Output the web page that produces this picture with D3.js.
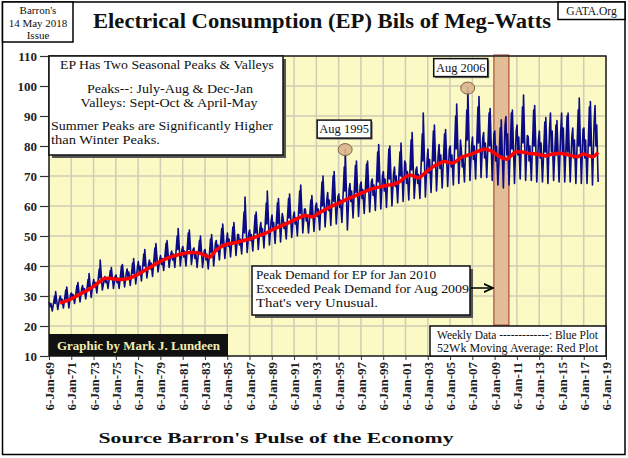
<!DOCTYPE html>
<html>
<head>
<meta charset="utf-8">
<script src="https://cdn.jsdelivr.net/npm/d3@7"></script>
<style>
  html, body { margin: 0; padding: 0; background: #fff; }
  svg { display: block; }
  text { font-family: "Liberation Serif", "DejaVu Serif", serif; }
</style>
</head>
<body>
<svg id="chart" width="628" height="458"></svg>
<script>
// ---------------- DATA ----------------
const years = [1969,1970,1971,1972,1973,1974,1975,1976,1977,1978,1979,1980,1981,1982,1983,1984,1985,1986,1987,1988,1989,1990,1991,1992,1993,1994,1995,1996,1997,1998,1999,2000,2001,2002,2003,2004,2005,2006,2007,2008,2009,2010,2011,2012,2013,2014,2015,2016,2017,2018];
// weekly EP seasonal turning points (bils of meg-watts), one value per year each
const janPeak    = [28,30,31,33.5,35.5,36.5,37,39,41.5,42,43.5,45,46.5,46,45.5,48.5,51,50.5,52,54.5,57,56,58,59,61,64.5,64,67.5,68,69,71.5,73,74,73,79,80.5,80,78.5,83,84.5,85,89.8,87,83,85,91,91,86,86,93.5];
const febDip     = [26.5,28,29.5,31,33,34.5,34.5,36,38,39,40.5,42,43,42.5,42,45,46.5,47,48.5,50,52,52.5,54,55,56.5,58.5,59.5,61.5,62.5,63.5,65,66.5,67.5,67.5,71,72.5,73,73,75.5,76,75,77,77,75,76,78,78,76,76,80];
const marBump    = [27.5,29,30.5,32.5,34.5,36,36,38,40,41,42.5,44,45,44.5,44,47,49,49,50.5,52.5,54.5,54.5,56,57,59,62,62,65,65.5,67,69,70,71.5,70.5,75.5,77,77,76,80,81,80,84,83,80,81,85,86,82,82,87];
const springLow  = [25,26,27.5,29,31,32.5,32.5,33.5,35,36.5,38.5,39.5,40,39.5,39,42,43,44,45,46,47.5,49,50,51,52,53.5,54.5,56,57.5,58.5,59.5,61,62,62.5,64.5,66,67,68,69,69.5,67,67,69,68.5,68,68.5,68,67.5,67.5,68];
const julPeak    = [30,32,33.5,35.5,39,38.5,40,41,44,46,47.5,50,51,48.5,49,52.5,53,58,57,61,61,62.5,65,62,68,70,73,73.5,74,78,79,78,82,84,85,84,90,92,93,91,86,91,93,92,88,87,90,92,93,null];
const julDip     = [27.5,29,31,33,36,35.5,36,37.5,40,41.5,43,45.5,45.5,44,44.5,47.5,48,51,51,54,54,56,57.5,57,60,61.5,65,64.5,65.5,68,69,70,72,75,75,75,79,82,81,80,77,79,81,80,78,77,78,80,80,null];
const summerPeak = [31.5,33,34.5,37.5,42,39.5,40.5,42.5,45.5,47.5,48.5,52.5,52,50,50.5,54,54.5,63,58,65,62.5,64,67,63.5,70,71.5,79,75,75,80.5,80,81,84.5,91,87,85.5,94,99.5,96.5,92.5,88.7,92,97,93.5,89.5,88.5,91,96,94.8,null];
const fallLow    = [25.5,26,28,29.5,32,32.5,33,34,36,38,39.5,40,40.5,39.5,40,42.5,43.5,44.5,45.5,47,48,49.5,51,51.5,53,54,52,56.5,58,59,60,61.5,62.5,63,65,66.5,67.5,68.5,69.5,68.5,66,67.5,68.5,68,67.5,68,68,67.5,67,null];
const decPeak    = [29,30.5,32.5,34,35,36.5,37.5,39.5,40.5,42,44,45.5,45.5,45,47.5,48.5,50.5,51,52.5,55,57.5,56.5,59,60,62,63,65.5,67,68,70,71,75,72,75,77,79,82,80,82.5,84,87,85,83.5,82,86,85,83,85.5,88,null];
// 52 week moving average [year, value]
const movingAvg = [[1970.0,27.6],[1970.5,28.3],[1971.0,29.0],[1971.5,30.0],[1972.0,31.0],[1972.5,32.0],[1973.0,33.2],[1973.5,34.6],[1974.0,35.8],[1974.5,35.9],[1975.0,35.6],[1975.5,35.5],[1976.0,35.7],[1976.5,36.3],[1977.0,37.2],[1977.5,38.3],[1978.0,39.4],[1978.5,40.5],[1979.0,41.5],[1979.5,42.4],[1980.0,43.1],[1980.5,43.6],[1981.0,44.1],[1981.5,44.4],[1982.0,44.5],[1982.5,44.3],[1983.0,43.6],[1983.4,42.9],[1984.0,45.2],[1984.5,46.5],[1985.0,47.3],[1985.5,47.6],[1986.0,48.0],[1986.5,48.5],[1987.0,49.0],[1987.5,49.6],[1988.0,50.3],[1988.5,51.0],[1989.0,52.0],[1989.5,52.8],[1990.0,53.6],[1990.5,54.4],[1991.0,55.3],[1991.5,56.1],[1992.0,56.8],[1992.7,56.4],[1993.2,57.6],[1993.7,58.6],[1994.2,59.6],[1994.6,60.3],[1995.0,60.9],[1995.5,61.8],[1996.0,62.6],[1996.5,63.4],[1997.0,64.2],[1997.5,65.0],[1998.0,65.7],[1998.5,66.2],[1999.0,66.6],[1999.5,67.0],[2000.0,67.3],[2000.5,68.2],[2001.0,69.6],[2001.4,70.3],[2002.2,69.4],[2002.7,70.8],[2003.2,72.3],[2003.6,73.3],[2004.0,74.1],[2004.5,74.8],[2005.2,74.3],[2005.6,75.0],[2006.0,76.2],[2006.5,76.8],[2007.0,77.4],[2007.5,78.2],[2008.1,78.9],[2008.6,78.5],[2009.0,77.6],[2009.6,76.2],[2010.1,75.6],[2010.5,76.8],[2011.0,78.1],[2011.5,78.0],[2012.0,77.6],[2012.5,77.4],[2013.0,77.2],[2013.6,76.7],[2014.1,77.2],[2014.8,77.6],[2015.3,77.3],[2015.9,76.8],[2016.4,76.4],[2017.0,77.3],[2017.8,76.4],[2018.3,77.9]];
const yTicks = [10,20,30,40,50,60,70,80,90,100,110];
const xTickYears = [1969,1971,1973,1975,1977,1979,1981,1983,1985,1987,1989,1991,1993,1995,1997,1999,2001,2003,2005,2007,2009,2011,2013,2015,2017,2019];
const band = [2008.95, 2010.3];
const callouts = [{label:"Aug 1995", year:1995.6, value:78.8, dx:-1}, {label:"Aug 2006", year:2006.6, value:99.3, dx:-7}];

// ---------------- CHART ----------------
const svg = d3.select("#chart");
const m = {left:49, right:606, top:56, bottom:356};

const fracToDate = f => {
  const yr = Math.floor(f);
  const a = new Date(yr,0,1).getTime(), b = new Date(yr+1,0,1).getTime();
  return new Date(a + (f-yr)*(b-a));
};

const x = d3.scaleTime().domain([new Date(1969,0,6), new Date(2019,0,6)]).range([m.left, m.right]);
const y = d3.scaleLinear().domain([10,110]).range([m.bottom, m.top]);

// outer frame
svg.append("rect").attr("x",2.5).attr("y",2).attr("width",622.5).attr("height",452.5)
  .attr("fill","#fff").attr("stroke","#000").attr("stroke-width",1.5);

// plot background
svg.append("rect").attr("x",m.left).attr("y",m.top).attr("width",m.right-m.left).attr("height",m.bottom-m.top)
  .attr("fill","#fbf9c4");

// gridlines
const xTicks = xTickYears.map(yr => new Date(yr,0,6));
svg.append("g").selectAll("line").data(xTicks).join("line")
  .attr("x1",d=>x(d)).attr("x2",d=>x(d)).attr("y1",m.top).attr("y2",m.bottom)
  .attr("stroke","#cfcdb6").attr("stroke-width",1.5);
svg.append("g").selectAll("line").data(yTicks).join("line")
  .attr("x1",m.left).attr("x2",m.right).attr("y1",d=>y(d)).attr("y2",d=>y(d))
  .attr("stroke","#cfcdb6").attr("stroke-width",1.5);

// shaded band
svg.append("rect")
  .attr("x", x(fracToDate(band[0]))).attr("y", m.top-1)
  .attr("width", x(fracToDate(band[1])) - x(fracToDate(band[0])))
  .attr("height", y(20.3) - m.top + 1)
  .attr("fill","#e2bd95").attr("stroke","#a3302a").attr("stroke-width",1);

// weekly series
const weekly = [];
years.forEach((yr,i) => {
  const pts = [[0.03,janPeak[i]],[0.11,febDip[i]],[0.18,marBump[i]],[0.31,springLow[i]],
               [0.52,julPeak[i]],[0.565,julDip[i]],[0.61,summerPeak[i]],[0.8,fallLow[i]],[0.95,decPeak[i]]];
  pts.forEach(([f,v]) => { if (v !== null) weekly.push({d:fracToDate(yr+f), v}); });
});
const line = d3.line().x(d=>x(d.d)).y(d=>y(d.v));
svg.append("path").datum(weekly).attr("d",line)
  .attr("fill","none").attr("stroke","#0b0b85").attr("stroke-width",1.6).attr("stroke-linejoin","round");

// moving average
const ma = movingAvg.map(([f,v]) => ({d:fracToDate(f), v}));
svg.append("path").datum(ma).attr("d", d3.line().x(d=>x(d.d)).y(d=>y(d.v)).curve(d3.curveMonotoneX))
  .attr("fill","none").attr("stroke","#ff0000").attr("stroke-width",3.5).attr("stroke-linejoin","round");

// plot border
svg.append("rect").attr("x",m.left).attr("y",m.top).attr("width",m.right-m.left).attr("height",m.bottom-m.top)
  .attr("fill","none").attr("stroke","#222").attr("stroke-width",1.5);

// y axis
const yAxis = d3.axisLeft(y).tickValues(yTicks).tickSize(9).tickPadding(3);
const ya = svg.append("g").attr("transform",`translate(${m.left},0)`).call(yAxis);
ya.select(".domain").remove();
ya.selectAll(".tick line").attr("stroke","#333").attr("stroke-width",1.2);
ya.selectAll(".tick text").attr("font-family","Liberation Serif, serif").attr("font-weight","bold")
  .attr("font-size",13).attr("fill","#222");

// x axis
const xAxis = d3.axisBottom(x).tickValues(xTicks).tickSize(4).tickFormat(d3.timeFormat("%-d-%b-%y"));
const xa = svg.append("g").attr("transform",`translate(0,${m.bottom})`).call(xAxis);
xa.select(".domain").remove();
xa.selectAll(".tick line").attr("stroke","#333");
xa.selectAll(".tick text")
  .attr("font-family","Liberation Serif, serif").attr("font-weight","bold").attr("font-size",13).attr("fill","#222")
  .attr("text-anchor","end").attr("transform","rotate(-90)")
  .attr("x",-6).attr("y",0).attr("dy","0.35em");

// title
svg.append("text").attr("x",322).attr("y",28).attr("text-anchor","middle")
  .attr("font-weight","bold").attr("font-size",21).attr("fill","#111")
  .attr("textLength",458).attr("lengthAdjust","spacingAndGlyphs")
  .text("Electrical Consumption (EP) Bils of Meg-Watts");

// Barron's box
svg.append("rect").attr("x",2.5).attr("y",2).attr("width",70.5).attr("height",40)
  .attr("fill","#fff").attr("stroke","#000").attr("stroke-width",1.5);
[["Barron's",14],["14 May 2018",26.5],["Issue",38.5]].forEach(([t,yy]) =>
  svg.append("text").attr("x",38).attr("y",yy).attr("text-anchor","middle").attr("font-size",11).attr("fill","#111").text(t));

// GATA box
svg.append("rect").attr("x",558).attr("y",2).attr("width",67).attr("height",17.5)
  .attr("fill","#fff").attr("stroke","#000").attr("stroke-width",1.5);
svg.append("text").attr("x",591.5).attr("y",15).attr("text-anchor","middle").attr("font-size",11.5).attr("fill","#111").text("GATA.Org");

// text box helper
function box(x0,y0,w,h,shadow) {
  if (shadow) svg.append("rect").attr("x",x0+3).attr("y",y0+3).attr("width",w).attr("height",h).attr("fill","#555");
  svg.append("rect").attr("x",x0).attr("y",y0).attr("width",w).attr("height",h)
    .attr("fill","#fff").attr("stroke","#111").attr("stroke-width",1.5);
}

// info box 1
box(49,56,234,99,true);
const t1 = [
  {t:"EP Has Two Seasonal Peaks & Valleys", x:167, y:69, a:"middle", w:214},
  {t:"Peaks--: July-Aug & Dec-Jan", x:170, y:93, a:"middle", w:166},
  {t:"Valleys:  Sept-Oct & April-May", x:169, y:107, a:"middle", w:177},
  {t:"Summer Peaks are Significantly  Higher", x:51, y:130, a:"start", w:222},
  {t:"than Winter Peaks.", x:51, y:144, a:"start", w:109}
];
t1.forEach(d => svg.append("text").attr("x",d.x).attr("y",d.y).attr("text-anchor",d.a)
  .attr("font-size",12.5).attr("fill","#111").attr("textLength",d.w).attr("lengthAdjust","spacingAndGlyphs").text(d.t));

// callouts
callouts.forEach(c => {
  const cx = x(fracToDate(c.year)), cy = y(c.value);
  svg.append("ellipse").attr("cx",cx).attr("cy",cy).attr("rx",7).attr("ry",6)
    .attr("fill","#d9b68e").attr("fill-opacity",0.9).attr("stroke","#7d6040").attr("stroke-width",1);
  const bw = 54, bh = 18, bx = cx - bw/2 + c.dx, by = cy - 29.5;
  svg.append("rect").attr("x",bx+1.5).attr("y",by+1.5).attr("width",bw).attr("height",bh).attr("fill","#777");
  svg.append("rect").attr("x",bx).attr("y",by).attr("width",bw).attr("height",bh)
    .attr("fill","#fff").attr("stroke","#111").attr("stroke-width",1.5);
  svg.append("text").attr("x",bx+bw/2).attr("y",by+13).attr("text-anchor","middle").attr("font-size",12.5)
    .attr("fill","#111").text(c.label);
});

// info box 2
box(252,266,218,49,true);
[["Peak Demand for EP for Jan 2010",279,180],["Exceeded Peak Demand for Aug 2009",293,213],["That's very Unusual.",307,122]]
  .forEach(([t,yy,w]) => svg.append("text").attr("x",256).attr("y",yy).attr("font-size",12.5).attr("fill","#111")
    .attr("textLength",w).attr("lengthAdjust","spacingAndGlyphs").text(t));
// arrow
svg.append("defs").append("marker").attr("id","arr").attr("viewBox","0 0 10 10").attr("refX",9).attr("refY",5)
  .attr("markerWidth",7).attr("markerHeight",7).attr("orient","auto")
  .append("path").attr("d","M0,1 L9,5 L0,9").attr("fill","none").attr("stroke","#000").attr("stroke-width",1.6);
svg.append("line").attr("x1",471).attr("y1",288).attr("x2",493).attr("y2",288)
  .attr("stroke","#000").attr("stroke-width",1.5).attr("marker-end","url(#arr)");

// legend box
box(430,326,176,30,false);
svg.append("text").attr("x",437).attr("y",338.5).attr("font-size",12).attr("fill","#111")
  .attr("textLength",161).attr("lengthAdjust","spacingAndGlyphs").text("Weekly Data -------------: Blue Plot");
svg.append("text").attr("x",437).attr("y",352).attr("font-size",12).attr("fill","#111")
  .attr("textLength",161).attr("lengthAdjust","spacingAndGlyphs").text("52Wk Moving Average: Red Plot");

// graphic by
svg.append("rect").attr("x",49).attr("y",334).attr("width",179).attr("height",22).attr("fill","#111");
svg.append("text").attr("x",57).attr("y",350).attr("font-size",13.5).attr("font-weight","bold").attr("fill","#f3ecb2")
  .attr("textLength",163).attr("lengthAdjust","spacingAndGlyphs").text("Graphic by Mark J. Lundeen");

// source
svg.append("text").attr("x",276).attr("y",443).attr("text-anchor","middle").attr("font-size",14.5).attr("font-weight","bold")
  .attr("fill","#111").attr("textLength",355).attr("lengthAdjust","spacingAndGlyphs").text("Source Barron's Pulse of the Economy");
</script>
</body>
</html>
